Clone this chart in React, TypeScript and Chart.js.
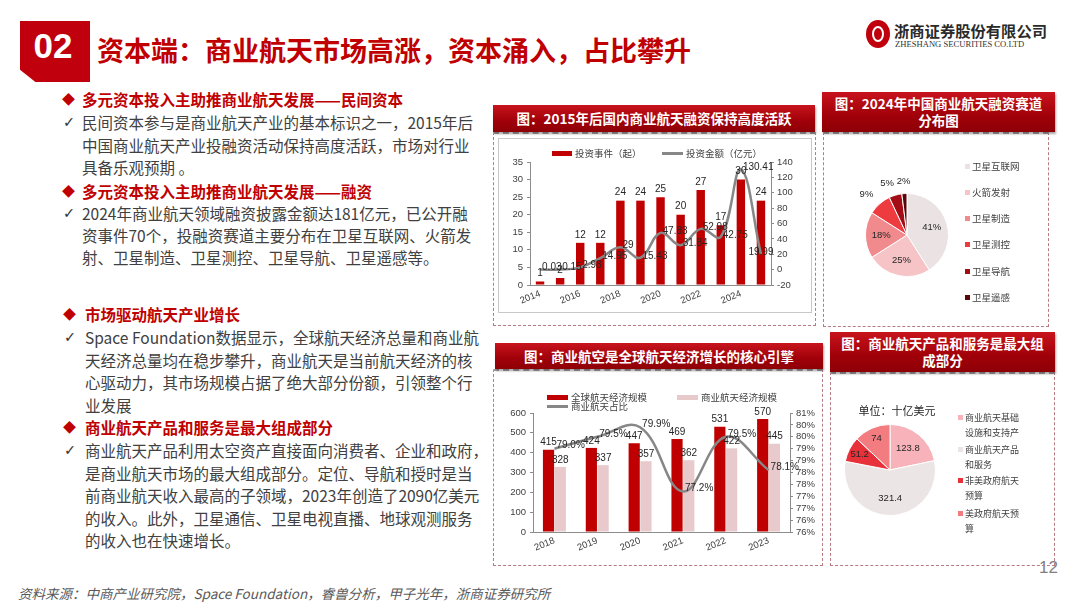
import React, { useEffect, useRef } from "react";
import { Chart, registerables } from "chart.js";

Chart.register(...registerables);

const CJK = '"Noto Sans CJK SC", "Noto Sans", sans-serif';
const LAT = '"Liberation Sans", "Noto Sans CJK SC", sans-serif';
const RED = "#c00000";
Chart.defaults.font.family = LAT;

// ---------- data ----------
const investYears = ["2014", "2015", "2016", "2017", "2018", "2019", "2020", "2021", "2022", "2023", "2024", "2025"];
const investEvents = [1, 2, 12, 12, 24, 24, 25, 20, 27, 17, 30, 24];
const investAmount = [0.03, 0.15, 2.98, 14.95, 29, 15.43, 47.83, 31.84, 52.98, 42.75, 130.41, 19.99];

const trackLabels = ["卫星互联网", "火箭发射", "卫星制造", "卫星测控", "卫星导航", "卫星遥感"];
const trackShares = [41, 25, 18, 9, 5, 2];
const trackColors = ["#ebe3e3", "#f6c3c7", "#f18a8d", "#ee3b3f", "#a20d16", "#5a0608"];

const econYears = ["2018", "2019", "2020", "2021", "2022", "2023"];
const globalEconomy = [415, 424, 447, 469, 531, 570];
const commercialEconomy = [328, 337, 357, 362, 422, 445];
const commercialShare = [79.0, 79.5, 79.9, 77.2, 79.5, 78.1];

const segmentLabels = ["商业航天基础设施和支持产业", "商业航天产品和服务", "非美政府航天预算", "美政府航天预算"];
const segmentValues = [123.8, 321.4, 51.2, 74];
const segmentColors = ["#f7b3b9", "#ebe5e5", "#e8323b", "#f37c81"];

// ---------- text ----------
const sections = [
  {
    title: "多元资本投入主助推商业航天发展——民间资本",
    ty: 99, x: 82, dx: 62,
    lines: ["民间资本参与是商业航天产业的基本标识之一，2015年后", "中国商业航天产业投融资活动保持高度活跃，市场对行业", "具备乐观预期 。"],
    ly: [122, 145, 167],
  },
  {
    title: "多元资本投入主助推商业航天发展——融资",
    ty: 191, x: 82, dx: 62,
    lines: ["2024年商业航天领域融资披露金额达181亿元，已公开融", "资事件70个，投融资赛道主要分布在卫星互联网、火箭发", "射、卫星制造、卫星测控、卫星导航、卫星遥感等。"],
    ly: [213, 235, 257],
  },
  {
    title: "市场驱动航天产业增长",
    ty: 314, x: 85, dx: 63,
    lines: ["Space Foundation数据显示，全球航天经济总量和商业航", "天经济总量均在稳步攀升，商业航天是当前航天经济的核", "心驱动力，其市场规模占据了绝大部分份额，引领整个行", "业发展"],
    ly: [337, 360, 382, 405],
  },
  {
    title: "商业航天产品和服务是最大组成部分",
    ty: 427, x: 85, dx: 63,
    lines: ["商业航天产品利用太空资产直接面向消费者、企业和政府，", "是商业航天市场的最大组成部分。定位、导航和授时是当", "前商业航天收入最高的子领域，2023年创造了2090亿美元", "的收入。此外，卫星通信、卫星电视直播、地球观测服务", "的收入也在快速增长。"],
    ly: [450, 473, 495, 518, 540],
  },
];

// ---------- helpers ----------
const axisGray = "#8c8c8c";
const tickColor = "#404040";

function T(props: { x: number; y: number; children: any; style?: any }) {
  return (
    <div
      style={{
        position: "absolute",
        left: props.x,
        top: props.y - 11,
        height: 22,
        lineHeight: "22px",
        whiteSpace: "nowrap",
        ...props.style,
      }}
    >
      {props.children}
    </div>
  );
}

function Header(props: { x: number; y: number; w: number; h: number; lines: string[] }) {
  return (
    <div
      style={{
        position: "absolute",
        left: props.x,
        top: props.y,
        width: props.w,
        height: props.h,
        background: "linear-gradient(#c8141d, #a00009 60%, #8e0006)",
        boxShadow: "1px 2px 2px rgba(0,0,0,0.35)",
        color: "#fff",
        fontFamily: CJK,
        fontWeight: 700,
        fontSize: 13.5,
        lineHeight: "17px",
        textAlign: "center",
        display: "flex",
        flexDirection: "column",
        justifyContent: "center",
      }}
    >
      {props.lines.map((l, i) => (
        <div key={i}>{l}</div>
      ))}
    </div>
  );
}

function Dashed(props: { x: number; y: number; w: number; h: number }) {
  return (
    <div
      style={{
        position: "absolute",
        left: props.x,
        top: props.y,
        width: props.w,
        height: props.h,
        border: "1.5px dashed #b57a82",
        borderTop: "2px dashed #a8a0a0",
        boxSizing: "border-box",
      }}
    />
  );
}

function useChart(make: () => any) {
  const ref = useRef<HTMLCanvasElement>(null);
  useEffect(() => {
    const chart = new Chart(ref.current as HTMLCanvasElement, make());
    return () => chart.destroy();
  }, []);
  return ref;
}

// ---------- chart 1: investment ----------
const investLabelPlugin = {
  id: "investLabels",
  afterDatasetsDraw(chart: any) {
    const ctx = chart.ctx;
    ctx.save();
    ctx.font = '10px "Liberation Sans", sans-serif';
    ctx.fillStyle = "#262626";
    chart.data.datasets.forEach((ds: any, di: number) => {
      const meta = chart.getDatasetMeta(di);
      meta.data.forEach((el: any, i: number) => {
        const v = ds.data[i];
        if (meta.type === "bar") {
          ctx.textAlign = "center";
          ctx.textBaseline = "bottom";
          ctx.fillText(String(v), el.x, el.y - 3);
        } else {
          const last = i === meta.data.length - 1;
          ctx.textAlign = last ? "center" : "left";
          ctx.textBaseline = "middle";
          ctx.fillText(String(v), el.x + (last ? 0 : 2), el.y - 2);
        }
      });
    });
    ctx.restore();
  },
};

function InvestChart() {
  const ref = useChart(() => ({
    type: "bar",
    data: {
      labels: investYears,
      datasets: [
        {
          type: "line",
          label: "投资金额（亿元）",
          data: investAmount,
          yAxisID: "y1",
          borderColor: "#878787",
          borderWidth: 2.5,
          pointRadius: 0,
          tension: 0.4,
          order: 0,
        },
        {
          type: "bar",
          label: "投资事件（起）",
          data: investEvents,
          yAxisID: "y",
          backgroundColor: RED,
          barPercentage: 0.42,
          categoryPercentage: 1,
          order: 1,
        },
      ],
    },
    options: {
      responsive: false,
      animation: false,
      layout: { padding: { top: 24, left: 0, right: 0, bottom: 0 } },
      plugins: { legend: { display: false }, tooltip: { enabled: false } },
      scales: {
        x: {
          grid: { display: false, drawTicks: false },
          border: { display: true, color: axisGray },
          ticks: {
            autoSkip: false,
            minRotation: 22,
            maxRotation: 22,
            color: tickColor,
            font: { size: 9.5 },
            padding: 3,
            callback: (_v: any, i: number) => (i % 2 === 0 ? investYears[i] : ""),
          },
          afterFit: (s: any) => {
            s.height = 28;
          },
        },
        y: {
          position: "left",
          min: 0,
          max: 35,
          ticks: { stepSize: 5, autoSkip: false, color: tickColor, font: { size: 9.5 }, padding: 4 },
          grid: { drawOnChartArea: false, drawTicks: true, tickLength: 3, color: axisGray },
          border: { display: true, color: axisGray },
          afterFit: (s: any) => {
            s.width = 32;
          },
        },
        y1: {
          position: "right",
          min: -20,
          max: 140,
          ticks: { stepSize: 20, autoSkip: false, color: tickColor, font: { size: 9.5 }, padding: 3 },
          grid: { drawOnChartArea: false, drawTicks: true, tickLength: 3, color: axisGray },
          border: { display: true, color: axisGray },
          afterFit: (s: any) => {
            s.width = 41;
          },
        },
      },
    },
    plugins: [investLabelPlugin],
  }));
  return (
    <canvas
      ref={ref}
      width={314}
      height={175}
      style={{ position: "absolute", left: 498, top: 138, width: 314, height: 175 }}
    />
  );
}

// ---------- chart 3: economy ----------
const econLabelPlugin = {
  id: "econLabels",
  afterDatasetsDraw(chart: any) {
    const ctx = chart.ctx;
    ctx.save();
    ctx.font = '10px "Liberation Sans", sans-serif';
    ctx.fillStyle = "#262626";
    chart.data.datasets.forEach((ds: any, di: number) => {
      const meta = chart.getDatasetMeta(di);
      meta.data.forEach((el: any, i: number) => {
        const v = ds.data[i];
        if (meta.type === "bar") {
          ctx.textAlign = "center";
          ctx.textBaseline = "bottom";
          ctx.fillText(String(v), el.x, el.y - 2);
        } else {
          ctx.textAlign = "left";
          ctx.textBaseline = "middle";
          ctx.fillText(v.toFixed(1) + "%", el.x + 2, el.y - 3);
        }
      });
    });
    ctx.restore();
  },
};

function EconomyChart() {
  const ref = useChart(() => ({
    type: "bar",
    data: {
      labels: econYears,
      datasets: [
        {
          type: "line",
          label: "商业航天占比",
          data: commercialShare,
          yAxisID: "y1",
          borderColor: "#878787",
          borderWidth: 2.5,
          pointRadius: 0,
          tension: 0.4,
          order: 0,
        },
        {
          type: "bar",
          label: "全球航天经济规模",
          data: globalEconomy,
          yAxisID: "y",
          backgroundColor: RED,
          categoryPercentage: 0.55,
          barPercentage: 0.95,
          order: 1,
        },
        {
          type: "bar",
          label: "商业航天经济规模",
          data: commercialEconomy,
          yAxisID: "y",
          backgroundColor: "#e8cacd",
          categoryPercentage: 0.55,
          barPercentage: 0.95,
          order: 2,
        },
      ],
    },
    options: {
      responsive: false,
      animation: false,
      layout: { padding: { top: 28, left: 0, right: 0, bottom: 0 } },
      plugins: { legend: { display: false }, tooltip: { enabled: false } },
      scales: {
        x: {
          grid: { display: false, drawTicks: false },
          border: { display: true, color: axisGray },
          ticks: { minRotation: 22, maxRotation: 22, color: tickColor, font: { size: 9.5 }, padding: 3 },
          afterFit: (s: any) => {
            s.height = 28;
          },
        },
        y: {
          position: "left",
          min: 0,
          max: 600,
          ticks: { stepSize: 100, autoSkip: false, color: tickColor, font: { size: 9.5 }, padding: 4 },
          grid: { drawOnChartArea: false, drawTicks: true, tickLength: 3, color: axisGray },
          border: { display: true, color: axisGray },
          afterFit: (s: any) => {
            s.width = 33;
          },
        },
        y1: {
          position: "right",
          min: 75.5,
          max: 80.5,
          ticks: {
            stepSize: 0.5,
            autoSkip: false,
            color: tickColor,
            font: { size: 9.5 },
            padding: 3,
            callback: (v: any) => Math.round(Number(v)) + "%",
          },
          grid: { drawOnChartArea: false, drawTicks: true, tickLength: 3, color: axisGray },
          border: { display: true, color: axisGray },
          afterFit: (s: any) => {
            s.width = 28;
          },
        },
      },
    },
    plugins: [econLabelPlugin],
  }));
  return (
    <canvas
      ref={ref}
      width={318}
      height={175}
      style={{ position: "absolute", left: 500, top: 385, width: 318, height: 175 }}
    />
  );
}

// ---------- pies ----------
function makePieLabelPlugin(fmt: (v: number) => string, outsideBelow: number) {
  return {
    id: "pieLabels",
    afterDatasetsDraw(chart: any) {
      const ctx = chart.ctx;
      const meta = chart.getDatasetMeta(0);
      const data = chart.data.datasets[0].data;
      ctx.save();
      ctx.font = '9.5px "Liberation Sans", sans-serif';
      ctx.fillStyle = "#262626";
      ctx.textBaseline = "middle";
      meta.data.forEach((arc: any, i: number) => {
        const p = arc.getProps(["x", "y", "startAngle", "endAngle", "outerRadius"], true);
        const mid = (p.startAngle + p.endAngle) / 2;
        const frac = (p.endAngle - p.startAngle) / (2 * Math.PI);
        const cx = Math.cos(mid);
        const sy = Math.sin(mid);
        if (frac < outsideBelow) {
          const r = p.outerRadius * 1.3;
          const lx = p.x + cx * r;
          const ly = p.y + sy * r;
          if (cx < -0.2) {
            ctx.textAlign = "right";
            ctx.fillText(fmt(data[i]), lx + 2, ly);
          } else {
            ctx.textAlign = "center";
            ctx.fillText(fmt(data[i]), lx, ly);
          }
        } else {
          const r = p.outerRadius * (frac < 0.16 ? 0.75 : 0.62);
          ctx.textAlign = "center";
          ctx.fillText(fmt(data[i]), p.x + cx * r, p.y + sy * r);
        }
      });
      ctx.restore();
    },
  };
}

function TrackPie() {
  const ref = useChart(() => ({
    type: "pie",
    data: {
      labels: trackLabels,
      datasets: [{ data: trackShares, backgroundColor: trackColors, borderColor: "#ffffff", borderWidth: 1 }],
    },
    options: {
      responsive: false,
      animation: false,
      layout: { padding: 18 },
      plugins: { legend: { display: false }, tooltip: { enabled: false } },
    },
    plugins: [makePieLabelPlugin((v) => v + "%", 0.1)],
  }));
  return (
    <canvas
      ref={ref}
      width={120}
      height={120}
      style={{ position: "absolute", left: 847, top: 175, width: 120, height: 120 }}
    />
  );
}

function SegmentPie() {
  const ref = useChart(() => ({
    type: "pie",
    data: {
      labels: segmentLabels,
      datasets: [{ data: segmentValues, backgroundColor: segmentColors, borderColor: "#ffffff", borderWidth: 1 }],
    },
    options: {
      responsive: false,
      animation: false,
      layout: { padding: 4 },
      plugins: { legend: { display: false }, tooltip: { enabled: false } },
    },
    plugins: [makePieLabelPlugin((v) => String(v), 0)],
  }));
  return (
    <canvas
      ref={ref}
      width={100}
      height={100}
      style={{ position: "absolute", left: 840, top: 420, width: 100, height: 100 }}
    />
  );
}

// ---------- legends ----------
const legendText = { fontFamily: CJK, fontSize: 9.5, color: "#404040" };

function LegendItem(props: { x: number; y: number; kind: "bar" | "line"; color: string; text: string; w?: number }) {
  const w = props.w || 21;
  return (
    <div>
      <div
        style={{
          position: "absolute",
          left: props.x,
          top: props.kind === "bar" ? props.y - 2.5 : props.y - 1.5,
          width: w,
          height: props.kind === "bar" ? 5 : 3,
          background: props.color,
        }}
      />
      <div
        style={{
          position: "absolute",
          left: props.x + w + 3,
          top: props.y - 7,
          lineHeight: "14px",
          whiteSpace: "nowrap",
          ...legendText,
        }}
      >
        {props.text}
      </div>
    </div>
  );
}

export default function App() {
  return (
    <div
      style={{
        position: "fixed",
        left: 0,
        top: 0,
        width: 1080,
        height: 608,
        background: "#ffffff",
        overflow: "hidden",
        fontFamily: CJK,
      }}
    >
      {/* top header */}
      <div
        style={{
          position: "absolute",
          left: 20,
          top: 21,
          width: 70,
          height: 61,
          background: "#c0000c",
          clipPath: "polygon(0 0, 100% 0, 100% 100%, 22% 100%, 0 80%)",
        }}
      />
      <div
        style={{
          position: "absolute",
          left: 20,
          top: 25,
          width: 66,
          textAlign: "center",
          color: "#fff",
          fontFamily: LAT,
          fontWeight: 700,
          fontSize: 35,
          lineHeight: "42px",
        }}
      >
        02
      </div>
      <div
        style={{
          position: "absolute",
          left: 97,
          top: 31,
          fontSize: 27,
          lineHeight: "38px",
          fontWeight: 700,
          color: RED,
          whiteSpace: "nowrap",
        }}
      >
        资本端：商业航天市场高涨，资本涌入，占比攀升
      </div>

      {/* logo */}
      <div
        style={{
          position: "absolute",
          left: 866,
          top: 20,
          width: 24,
          height: 28,
          borderRadius: "50%",
          background: "#c0000c",
        }}
      />
      <div
        style={{
          position: "absolute",
          left: 872,
          top: 26,
          width: 12,
          height: 16,
          borderRadius: "50%",
          border: "2px solid #fff",
          boxSizing: "border-box",
        }}
      />
      <div
        style={{
          position: "absolute",
          left: 894,
          top: 20,
          fontSize: 15.3,
          lineHeight: "20px",
          fontWeight: 700,
          color: "#2a2a2a",
          whiteSpace: "nowrap",
        }}
      >
        浙商证券股份有限公司
      </div>
      <div
        style={{
          position: "absolute",
          left: 895,
          top: 38,
          fontSize: 8.6,
          lineHeight: "12px",
          fontFamily: '"Liberation Serif", serif',
          color: "#333",
          whiteSpace: "nowrap",
        }}
      >
        ZHESHANG SECURITIES CO.LTD
      </div>

      {/* left text */}
      {sections.map((s, si) => (
        <div key={si}>
          <T x={s.dx} y={s.ty} style={{ color: RED, fontSize: 13 }}>
            ◆
          </T>
          <T x={s.x} y={s.ty} style={{ color: RED, fontSize: 15.5, fontWeight: 700 }}>
            {s.title}
          </T>
          <T x={s.dx + 1} y={s.ly[0]} style={{ color: "#333", fontSize: 14.5, fontFamily: '"DejaVu Sans", sans-serif' }}>
            ✓
          </T>
          {s.lines.map((l, li) => (
            <T key={li} x={s.x} y={s.ly[li]} style={{ color: "#404040", fontSize: 15.5 }}>
              {l}
            </T>
          ))}
        </div>
      ))}

      <div
        style={{
          position: "absolute",
          left: 18,
          top: 584,
          fontSize: 13.5,
          lineHeight: "18px",
          fontStyle: "italic",
          color: "#595959",
          whiteSpace: "nowrap",
        }}
      >
        资料来源：中商产业研究院，Space Foundation，睿兽分析，甲子光年，浙商证券研究所
      </div>
      <div
        style={{
          position: "absolute",
          left: 1039,
          top: 558,
          fontSize: 17,
          lineHeight: "20px",
          fontFamily: LAT,
          color: "#7f7f7f",
        }}
      >
        12
      </div>

      {/* panels */}
      <Dashed x={493} y={132} w={323} h={194} />
      <Header x={493} y={105} w={322} h={27} lines={["图：2015年后国内商业航天融资保持高度活跃"]} />
      <div
        style={{
          position: "absolute",
          left: 498,
          top: 138,
          width: 314,
          height: 175,
          border: "1px solid #c8c8c8",
          boxSizing: "border-box",
        }}
      />

      <Dashed x={823} y={132} w={226} h={195} />
      <Header x={822} y={92} w={233} h={40} lines={["图：2024年中国商业航天融资赛道", "分布图"]} />

      <Dashed x={493} y={369} w={330} h={197} />
      <Header x={495} y={343} w={328} h={26} lines={["图：商业航空是全球航天经济增长的核心引擎"]} />

      <Dashed x={830} y={372} w={225} h={194} />
      <Header x={830} y={332} w={225} h={40} lines={["图：商业航天产品和服务是最大组", "成部分"]} />

      {/* charts */}
      <InvestChart />
      <LegendItem x={552} y={153} kind="bar" color={RED} text="投资事件（起）" w={20} />
      <LegendItem x={662} y={153} kind="line" color="#878787" text="投资金额（亿元）" />

      <TrackPie />
      {trackLabels.map((l, i) => (
        <div key={i}>
          <div
            style={{
              position: "absolute",
              left: 965,
              top: [166, 192, 218, 244, 271, 297][i] - 2.5,
              width: 5,
              height: 5,
              background: trackColors[i],
            }}
          />
          <div
            style={{
              position: "absolute",
              left: 972,
              top: [166, 192, 218, 244, 271, 297][i] - 7,
              lineHeight: "14px",
              whiteSpace: "nowrap",
              ...legendText,
            }}
          >
            {l}
          </div>
        </div>
      ))}

      <EconomyChart />
      <LegendItem x={547} y={397} kind="bar" color={RED} text="全球航天经济规模" />
      <LegendItem x={677} y={397} kind="bar" color="#e8cacd" text="商业航天经济规模" />
      <LegendItem x={547} y={406} kind="line" color="#878787" text="商业航天占比" />

      <div
        style={{
          position: "absolute",
          left: 850,
          top: 402,
          width: 94,
          textAlign: "center",
          fontSize: 11,
          lineHeight: "16px",
          color: "#262626",
          whiteSpace: "nowrap",
        }}
      >
        单位：十亿美元
      </div>
      <SegmentPie />
      {segmentLabels.map((l, i) => (
        <div key={i}>
          <div
            style={{
              position: "absolute",
              left: 958,
              top: [417, 449, 480, 513][i] - 2.5,
              width: 5,
              height: 5,
              background: segmentColors[i],
            }}
          />
          <div
            style={{
              position: "absolute",
              left: 965,
              top: [417, 449, 480, 513][i] - 7.5,
              width: 56,
              height: 30,
              overflow: "hidden",
              lineHeight: "15px",
              wordBreak: "break-all",
              ...legendText,
              fontSize: 9,
            }}
          >
            {l}
          </div>
        </div>
      ))}
    </div>
  );
}
